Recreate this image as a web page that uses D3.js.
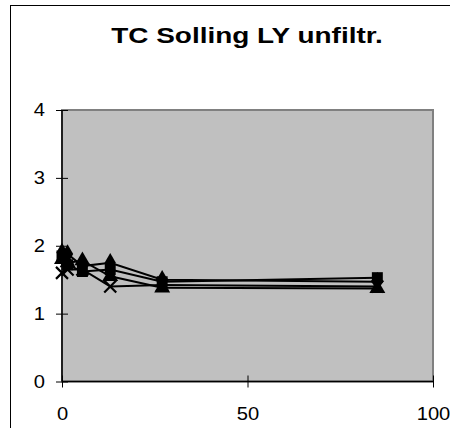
<!DOCTYPE html>
<html><head><meta charset="utf-8">
<script src="https://cdn.jsdelivr.net/npm/d3@7"></script>
<style>body{margin:0;background:#fff}svg{display:block;font-family:Arial,"Liberation Sans",sans-serif}</style>
</head><body><svg id="c" width="450" height="428"></svg>
<script>
const title = "TC Solling LY unfiltr.";
const xValues = [0, 1.5, 5.5, 13, 27, 85];
const diamondSeries = [1.9, 1.88, 1.7, 1.75, 1.5, 1.47];
const squareSeries = [1.85, 1.72, 1.62, 1.65, 1.47, 1.53];
const triangleSeries = [1.8, 1.75, 1.78, 1.55, 1.38, 1.37];
const crossSeries = [1.6, 1.65, 1.65, 1.4, 1.42, 1.4];
const xTicks = [0, 50, 100];
const yTicks = [0, 1, 2, 3, 4];

const series = [
  {v: diamondSeries, sym: d3.symbolDiamond},
  {v: squareSeries, sym: d3.symbolSquare},
  {v: triangleSeries, sym: d3.symbolTriangle},
  {v: crossSeries, sym: "x"}
];
const SX = 1.3;  // title stretch
const TSX = 1.12; // tick label stretch

const svg = d3.select("#c");
svg.append("rect").attr("x",10.5).attr("y",5.5).attr("width",500).attr("height",500)
  .attr("fill","#fff").attr("stroke","#000").attr("stroke-width",1);

svg.append("text").attr("transform",`translate(247,43) scale(${SX},1)`).attr("text-anchor","middle")
  .attr("font-size",21.5).attr("font-weight","bold").text(title);

const L=62, R=433, T=110, B=381.5;
const x = d3.scaleLinear().domain([0,100]).range([L,R]);
const y = d3.scaleLinear().domain([0,4]).range([B,T]);

svg.append("rect").attr("x",L).attr("y",T).attr("width",R-L).attr("height",B-T)
  .attr("fill","#c0c0c0").attr("stroke","#808080").attr("stroke-width",2);

const gx = svg.append("g").attr("transform",`translate(0,${B})`)
  .call(d3.axisBottom(x).tickValues(xTicks).tickFormat(d3.format("d")).tickSize(6));
gx.select(".domain").remove();
gx.selectAll(".tick line").attr("y1",-6).attr("y2",6).attr("stroke","#000");
gx.selectAll("text").attr("font-size",18).attr("fill","#000").attr("font-family","Arial")
  .attr("y",38.5).attr("dy",null).attr("transform",`scale(${TSX},1)`);

const gy = svg.append("g").attr("transform",`translate(${L},0)`)
  .call(d3.axisLeft(y).tickValues(yTicks).tickFormat(d3.format("d")).tickSize(6));
gy.select(".domain").remove();
gy.selectAll(".tick line").attr("x1",-6).attr("x2",6).attr("stroke","#000");
gy.selectAll("text").attr("font-size",18).attr("fill","#000").attr("font-family","Arial")
  .attr("x",-17/TSX).attr("transform",`scale(${TSX},1)`);

svg.append("line").attr("x1",L).attr("x2",R).attr("y1",B).attr("y2",B).attr("stroke","#000").attr("stroke-width",1.5);
svg.append("line").attr("x1",L).attr("x2",L).attr("y1",T).attr("y2",B).attr("stroke","#000").attr("stroke-width",1.5);

const line = d3.line().x((d,i)=>x(xValues[i])).y(d=>y(d));
series.forEach(s=>{
  svg.append("path").attr("d",line(s.v)).attr("fill","none").attr("stroke","#000").attr("stroke-width",2);
});
series.forEach(s=>{
  const g = svg.append("g");
  s.v.forEach((d,i)=>{
    const cx=x(xValues[i]), cy=y(d);
    if(s.sym==="x"){
      g.append("path").attr("d",`M${cx-6},${cy-6}L${cx+6},${cy+6}M${cx+6},${cy-6}L${cx-6},${cy+6}`)
        .attr("stroke","#000").attr("stroke-width",2.2);
    } else {
      g.append("path").attr("d",d3.symbol().type(s.sym).size(s.sym===d3.symbolSquare?120:110)())
        .attr("transform",`translate(${cx},${cy})`).attr("fill","#000");
    }
  });
});
</script></body></html>
